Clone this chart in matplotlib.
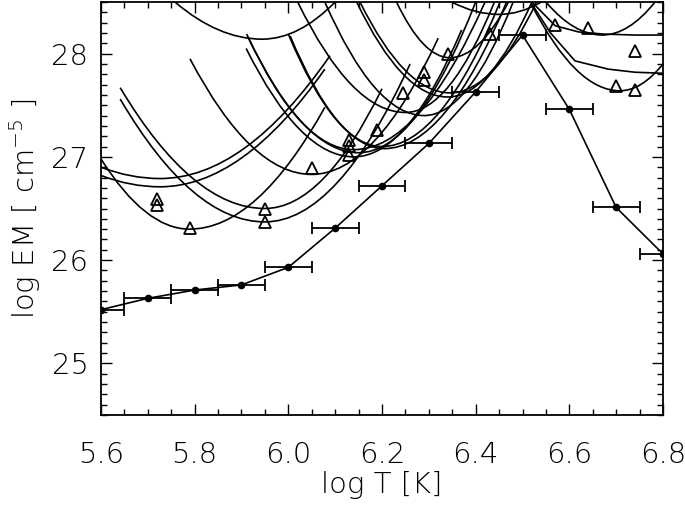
import matplotlib
matplotlib.use("Agg")
import matplotlib.pyplot as plt
from matplotlib.path import Path
from matplotlib.patches import PathPatch
from matplotlib.ticker import MultipleLocator

# DEM solution (filled dots joined by a line, +/-0.05 in log T)
dem_logt = [5.6, 5.7, 5.8, 5.9, 6.0, 6.1, 6.2, 6.3, 6.4, 6.5, 6.6, 6.7, 6.8]
dem_logem = [25.52, 25.63, 25.71, 25.76, 25.93, 26.31, 26.72, 27.13, 27.63,
             28.18, 27.46, 26.51, 26.06]
dem_xerr = 0.05

# open triangles
tri_logt = [5.72, 5.72, 5.79, 5.95, 5.95, 6.05, 6.13, 6.13, 6.13, 6.19,
            6.245, 6.29, 6.29, 6.34, 6.43, 6.57, 6.64, 6.74, 6.70, 6.74]
tri_logem = [26.59, 26.53, 26.31, 26.50, 26.37, 26.89, 27.16, 27.11, 27.02,
             27.26, 27.62, 27.82, 27.74, 28.00, 28.19, 28.28, 28.25, 28.03,
             27.69, 27.65]

# EM loci, read as (left end, minimum, right end)
loci = [
    [(5.758, 28.50), (5.944, 28.14), (6.100, 28.50)],
    [(5.641, 27.67), (5.950, 26.50), (6.200, 27.66)],
    [(5.641, 27.56), (5.950, 26.37), (6.260, 27.90)],
    [(5.600, 26.90), (5.726, 26.79), (6.089, 27.98)],
    [(5.600, 26.82), (5.726, 26.71), (6.078, 27.85)],
    [(5.600, 26.98), (5.789, 26.30), (6.078, 27.48)],
    [(5.790, 27.95), (6.050, 26.83), (6.320, 28.15)],
    [(5.911, 28.19), (6.140, 27.07), (6.420, 28.50)],
    [(5.914, 28.16), (6.150, 27.04), (6.400, 28.50)],
    [(5.910, 28.05), (6.140, 27.00), (6.370, 28.23)],
    [(6.000, 28.19), (6.200, 27.10), (6.452, 28.50)],
    [(6.004, 28.17), (6.205, 27.08), (6.466, 28.50)],
    [(6.020, 28.50), (6.250, 27.43), (6.440, 28.50)],
    [(6.078, 28.50), (6.290, 27.40), (6.480, 28.50)],
    [(6.146, 28.50), (6.340, 27.58), (6.520, 28.50)],
    [(6.153, 28.50), (6.345, 27.62), (6.530, 28.50)],
    [(6.231, 28.50), (6.345, 27.96), (6.470, 28.50)],
    [(6.349, 28.50), (6.450, 28.38), (6.540, 28.50)],
    [(6.550, 28.50), (6.670, 28.18), (6.783, 28.50)],
    [(6.520, 28.47), (6.708, 27.64), (6.800, 27.90)],
]

# loci that flatten out towards the right edge
loci_flat = [
    [(6.52, 28.50), (6.57, 28.27), (6.62, 28.21), (6.672, 28.19), (6.74, 28.18), (6.80, 28.18)],
    [(6.52, 28.48), (6.56, 28.20), (6.612, 27.93), (6.683, 27.85), (6.74, 27.82), (6.80, 27.81)],
]

plt.rcParams["font.family"] = "DejaVu Sans"
plt.rcParams["font.weight"] = "light"
plt.rcParams["axes.labelweight"] = "light"
fig = plt.figure(figsize=(6.85, 5.07), dpi=100)
ax = fig.add_axes([0.1474, 0.1815, 0.8205, 0.8145])

lw = 1.2
for (l, m, r) in loci:
    verts = [l, ((l[0] + m[0]) / 2, m[1]), m, ((m[0] + r[0]) / 2, m[1]), r]
    codes = [Path.MOVETO, Path.CURVE3, Path.CURVE3, Path.CURVE3, Path.CURVE3]
    ax.add_patch(PathPatch(Path(verts, codes), fill=False, lw=lw, ec="black"))

for pts in loci_flat:
    ax.plot([p[0] for p in pts], [p[1] for p in pts], color="black", lw=lw)

ax.plot(tri_logt, tri_logem, linestyle="none", marker="^", ms=8,
        mfc="none", mec="black", mew=1.3)

ax.errorbar(dem_logt, dem_logem, xerr=dem_xerr, color="black", lw=lw,
            marker="o", ms=4.5, capsize=4, elinewidth=1.3, capthick=1.3)

ax.set_xlim(5.6, 6.8)
ax.set_ylim(24.5, 28.5)
ax.xaxis.set_major_locator(MultipleLocator(0.2))
ax.xaxis.set_minor_locator(MultipleLocator(0.05))
ax.yaxis.set_major_locator(MultipleLocator(1))
ax.yaxis.set_minor_locator(MultipleLocator(0.1))
ax.set_xticklabels([f"{v:.1f}" for v in ax.get_xticks()])
ax.tick_params(which="both", direction="in", top=True, right=True, width=1,
               labelsize=21)
ax.tick_params(axis="x", pad=19)
ax.tick_params(axis="y", pad=9)
ax.tick_params(which="major", length=8)
ax.tick_params(which="minor", length=4)
for s in ax.spines.values():
    s.set_linewidth(1.3)

ax.set_xlabel("log T [K]", fontsize=21, labelpad=1)
ax.set_ylabel("log EM [ cm$^{-5}$ ]", fontsize=21, labelpad=6)

fig.savefig("out.png", dpi=100)
